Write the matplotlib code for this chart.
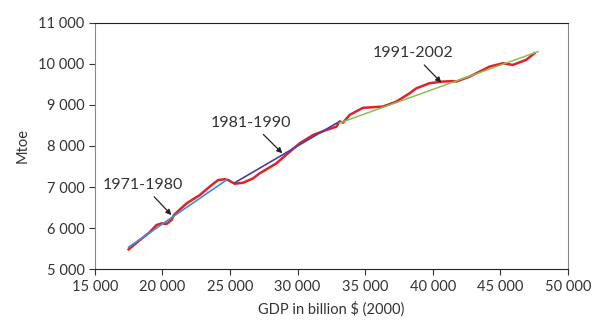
import numpy as np
import matplotlib.pyplot as plt
from matplotlib.ticker import FuncFormatter

# World GDP vs primary energy consumption
gdp = [17500, 18300, 19000, 19560, 19930, 20300, 20670, 20850, 21780, 22770,
       23500, 24120, 24610, 24860, 25350, 25970, 26710, 27200, 28440, 28930,
       30160, 31150, 32140, 32870, 33120, 33370, 33860, 34100, 34840, 35580,
       36320, 37310, 38300, 38790, 39780, 40770, 41500, 41750, 42740, 44220,
       45200, 45940, 46930, 47540]
energy = [5480, 5700, 5880, 6073, 6115, 6100, 6195, 6317, 6600, 6805,
          7010, 7170, 7190, 7170, 7080, 7105, 7210, 7335, 7578, 7720,
          8065, 8268, 8390, 8470, 8595, 8570, 8756, 8800, 8930, 8945,
          8960, 9080, 9285, 9405, 9530, 9570, 9580, 9570, 9690, 9935,
          10015, 9975, 10100, 10260]

# linear fits per period (end points)
fit71_x = [17500, 24740]
fit71_y = [5535, 7170]
fit81_x = [25355, 33120]
fit81_y = [7105, 8600]
fit91_x = [33100, 47800]
fit91_y = [8560, 10300]

plt.rcParams['font.family'] = ['Lato', 'DejaVu Sans']
fig = plt.figure(figsize=(6.04, 3.36), dpi=100)
ax = fig.add_axes([0.157, 0.199, 0.783, 0.733])

ax.plot(gdp, energy, color='#e0202a', linewidth=1.8)
ax.plot(fit71_x, fit71_y, color='#3b8fd8', linewidth=1.2)
ax.plot(fit81_x, fit81_y, color='#4b3ea8', linewidth=1.2)
ax.plot(fit91_x, fit91_y, color='#86c250', linewidth=1.1)

txt = '#333333'
arrow = dict(arrowstyle='-|>', color='#222222', lw=0.9, mutation_scale=8,
             shrinkA=2, shrinkB=0)
ax.annotate('1971-1980', xy=(20670, 6317), xytext=(18570, 7050),
            ha='center', va='center', fontsize=11.5, color=txt, arrowprops=arrow)
ax.annotate('1981-1990', xy=(28880, 7822), xytext=(26590, 8568),
            ha='center', va='center', fontsize=11.5, color=txt, arrowprops=arrow)
ax.annotate('1991-2002', xy=(40640, 9544), xytext=(38540, 10261),
            ha='center', va='center', fontsize=11.5, color=txt, arrowprops=arrow)

ax.set_xlim(15000, 50000)
ax.set_ylim(5000, 11000)
ax.set_xticks(np.arange(15000, 50001, 5000))
ax.set_yticks(np.arange(5000, 11001, 1000))
fmt = FuncFormatter(lambda v, p: f'{int(v):,}'.replace(',', ' '))
ax.xaxis.set_major_formatter(fmt)
ax.yaxis.set_major_formatter(fmt)
ax.tick_params(labelsize=10.5, colors='#333333', length=4, width=0.8)

for s in ['left', 'right']:
    ax.spines[s].set_color('#888888')
for s in ['top', 'bottom']:
    ax.spines[s].set_color('#222222')
for s in ax.spines.values():
    s.set_linewidth(0.8)

ax.set_xlabel('GDP in billion $ (2000)', fontsize=10.5, color=txt, labelpad=6)
ax.set_ylabel('Mtoe', fontsize=10.5, color=txt, labelpad=6)

fig.savefig('out.png', dpi=100)
